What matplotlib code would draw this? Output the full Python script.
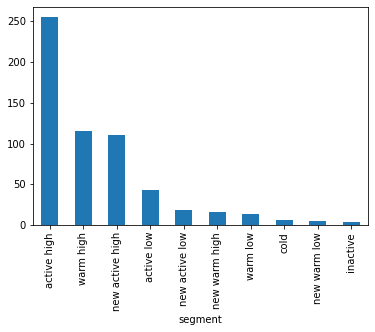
import pandas as pd
import matplotlib
matplotlib.use("Agg")
import matplotlib.pyplot as plt

segments = ['active high', 'warm high', 'new active high', 'active low', 'new active low',
            'new warm high', 'warm low', 'cold', 'new warm low', 'inactive']
counts = [255, 115, 110, 43, 18, 16, 14, 6, 5, 4]

s = pd.Series(counts, index=pd.Index(segments, name='segment'))

fig = plt.figure(figsize=(375 / 72, 332 / 72), dpi=72)
ax = fig.add_axes([33 / 375, 1 - 225 / 332, (368 - 33) / 375, (225 - 7) / 332])
s.plot(kind='bar', ax=ax, color='#1f77b4')
ax.set_xlabel('segment')

fig.savefig('out.png', dpi=72, facecolor='white')
